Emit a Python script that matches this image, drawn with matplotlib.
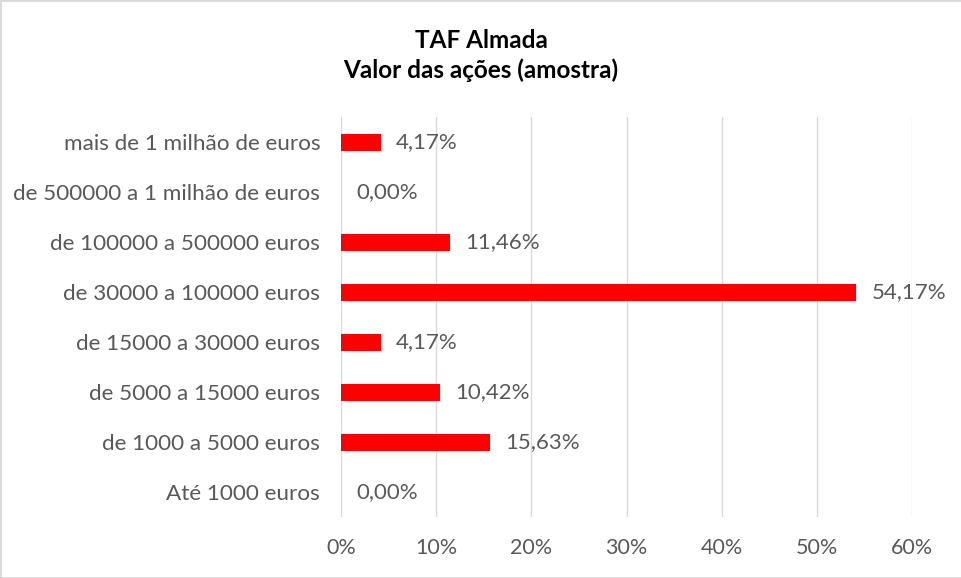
import matplotlib
matplotlib.use("Agg")
import matplotlib.pyplot as plt
from matplotlib.ticker import FuncFormatter, MultipleLocator
from matplotlib.patches import Rectangle

categories = ["Até 1000 euros", "de 1000 a 5000 euros", "de 5000 a 15000 euros",
              "de 15000 a 30000 euros", "de 30000 a 100000 euros",
              "de 100000 a 500000 euros", "de 500000 a 1 milhão de euros",
              "mais de 1 milhão de euros"]
values = [0.00, 15.63, 10.42, 4.17, 54.17, 11.46, 0.00, 4.17]
title = "TAF Almada\nValor das ações (amostra)"

plt.rcParams['font.family'] = ['Lato', 'DejaVu Sans']
fig = plt.figure(figsize=(9.62, 5.78), dpi=100)
ax = fig.add_axes([0.3545, 0.1055, 0.5935, 0.692])

ypos = list(range(len(categories)))
ax.barh(ypos, values, height=0.34, color="#ff0000", zorder=3)
ax.set_ylim(-0.5, len(categories) - 0.5)
ax.set_xlim(0, 60)
ax.xaxis.set_major_locator(MultipleLocator(10))
ax.xaxis.set_major_formatter(FuncFormatter(lambda v, p: f"{int(round(v))}%"))
ax.set_yticks(ypos)
ax.set_yticklabels(categories)
ax.grid(axis="x", color="#d9d9d9", linewidth=1, zorder=0)
for s in ax.spines.values():
    s.set_visible(False)
ax.tick_params(axis="both", length=0, labelcolor="#595959")
ax.tick_params(axis="y", pad=15, labelsize=16.2)
ax.tick_params(axis="x", pad=15, labelsize=15.5)

for y, v in zip(ypos, values):
    ax.annotate(f"{v:.2f}%".replace(".", ","), xy=(v, y), xytext=(15, 0),
                textcoords="offset pixels", va="center", ha="left",
                fontsize=16, color="#595959")

fig.text(0.5, 0.95, title, ha="center", va="top", fontsize=17.5, fontweight="bold",
         color="#000000", linespacing=1.35)
fig.patches.append(Rectangle((0, 0), 1, 1, transform=fig.transFigure, fill=False,
                             edgecolor="#d9d9d9", linewidth=2))
fig.savefig("out.png", dpi=100)
